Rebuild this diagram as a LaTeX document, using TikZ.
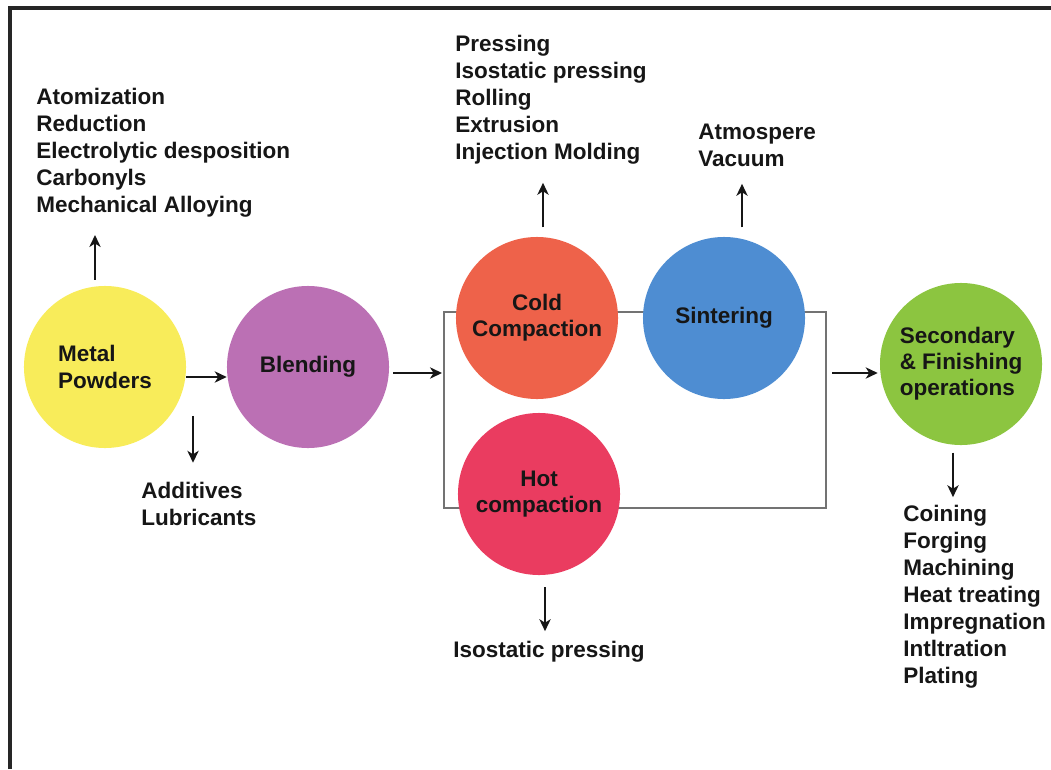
\documentclass[tikz,border=0pt]{standalone}
\usepackage{fontspec}
\setmainfont{Liberation Sans}
\usepackage{xcolor}
\usepackage{tikz}
\usetikzlibrary{arrows.meta,positioning,calc}
\definecolor{powderY}{RGB}{248,236,90}
\definecolor{blendP}{RGB}{187,112,180}
\definecolor{coldR}{RGB}{238,98,74}
\definecolor{sinterB}{RGB}{78,141,210}
\definecolor{hotR}{RGB}{234,60,96}
\definecolor{finishG}{RGB}{140,197,64}
\definecolor{inkK}{RGB}{22,22,22}

\begin{document}
\begin{tikzpicture}[x=0.025cm,y=-0.025cm,
  stage/.style={circle,minimum size=4.05cm,inner sep=0pt,align=center,text=inkK,
    font=\bfseries\fontsize{16}{18.6}\selectfont},
  note/.style={anchor=west,align=left,inner sep=0pt,text=inkK,
    font=\bfseries\fontsize{16}{19.2}\selectfont},
  flow/.style={-{Stealth[length=8.5pt,width=8pt,inset=2.5pt]},line width=1.6pt,draw=inkK},
  rail/.style={draw=black!55,line width=0.9pt}]
  \useasboundingbox (0,0) rectangle (1051,769);
  % frame
  \draw[line width=0.08cm,draw=black!85] (10,769) -- (10,8) -- (1051,8);
  % rails round the compaction / sintering stages
  \draw[rail] (444,312) rectangle (826,508);
  \coordinate (railin) at (444,373);
  \coordinate (railout) at (826,373);

  % stages
  \node[stage,fill=powderY,align=left] (metal) at (105,367) {Metal\\Powders};
  \node[stage,fill=blendP] (blend) at (308,367) {Blending};
  \node[stage,fill=coldR] (cold) at (537,318) {Cold\\Compaction};
  \node[stage,fill=sinterB] (sinter) at (724,318) {Sintering};
  \node[stage,fill=hotR] (hot) at (539,494) {Hot\\compaction};
  \node[stage,fill=finishG,align=left] (sec) at (961,364) {Secondary\\\& Finishing\\operations};

  % notes
  \node[note] (powderlist) at (36,153) {Atomization\\Reduction\\Electrolytic desposition\\Carbonyls\\Mechanical Alloying};
  \node[note] (addlist) at (141,504) {Additives\\Lubricants};
  \node[note] (coldlist) at (455,100) {Pressing\\Isostatic pressing\\Rolling\\Extrusion\\Injection Molding};
  \node[note] (sinterlist) at (698,145) {Atmospere\\Vacuum};
  \node[note] (isolist) at (453,652) {Isostatic pressing};
  \node[note] (seclist) at (903,597) {Coining\\Forging\\Machining\\Heat treating\\Impregnation\\Intltration\\Plating};

  % arrows
  \draw[flow] ([yshift=-0.25cm]metal.east) -- ([yshift=-0.25cm]blend.west);
  \draw[flow,shorten <=0.1cm,shorten >=0.05cm] (blend.east |- railin) -- (railin);
  \draw[flow,shorten <=0.15cm,shorten >=0.05cm] (railout) -- (sec.west |- railout);
  \draw[flow,shorten <=0.15cm,shorten >=0.43cm] ([xshift=-0.25cm]metal.north) -- ([xshift=-0.25cm]metal.north |- powderlist.south);
  \draw[flow] ([xshift=1.3cm,yshift=1.65cm]addlist.north west) -- ([xshift=1.3cm,yshift=0.48cm]addlist.north west);
  \draw[flow,shorten <=0.23cm,shorten >=0.45cm] ([xshift=0.15cm]cold.north) -- ([xshift=0.15cm]cold.north |- coldlist.south);
  \draw[flow,shorten <=0.23cm,shorten >=0.43cm] ([xshift=0.45cm]sinter.north) -- ([xshift=0.45cm]sinter.north |- sinterlist.south);
  \draw[flow,shorten <=0.3cm,shorten >=0.25cm] ([xshift=0.15cm]hot.south) -- ([xshift=0.15cm]hot.south |- isolist.north);
  \draw[flow,shorten <=0.18cm,shorten >=0.2cm] ([xshift=-0.2cm]sec.south) -- ([xshift=-0.2cm]sec.south |- seclist.north);
\end{tikzpicture}
\end{document}
